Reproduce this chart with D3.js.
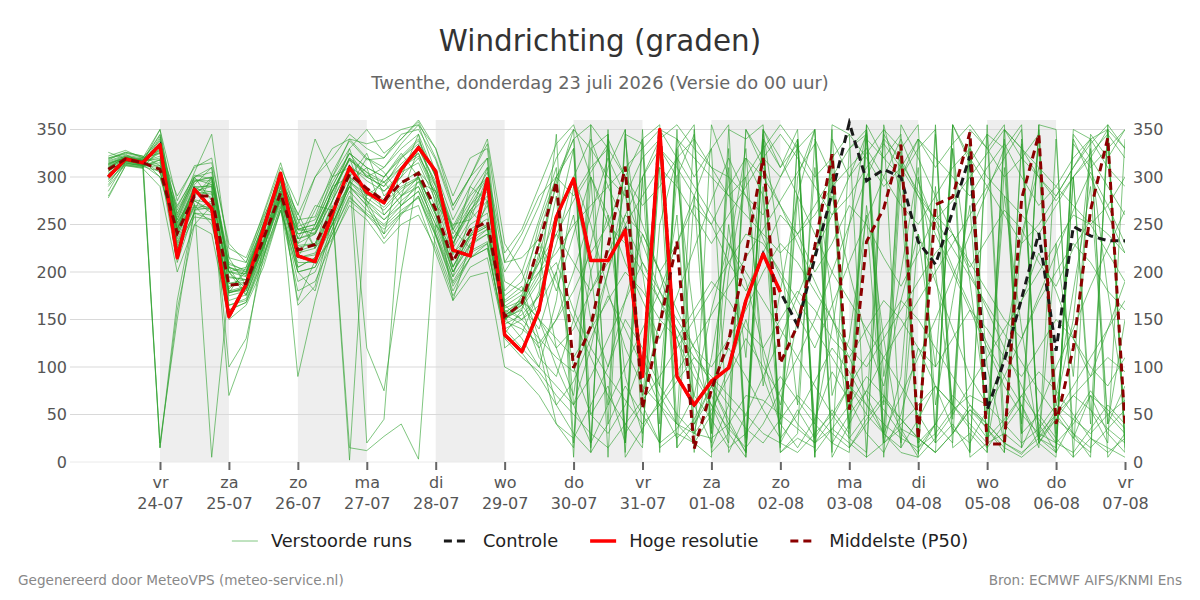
<!doctype html>
<html>
<head>
<meta charset="utf-8">
<script src="https://d3js.org/d3.v7.min.js"></script>
<style>
  body { margin: 0; background: #fff; }
  svg { display: block; font-family: "DejaVu Sans", sans-serif; }
</style>
<title>Windrichting</title>
</head>
<body>
<svg width="1200" height="600"></svg>
<script>
// tijdstappen: elke 6 uur vanaf do 23-07 06 uur
const firstStep = new Date(2026, 6, 23, 6);
const stepHours = 6;

const dayTicks = ["2026-07-24","2026-07-25","2026-07-26","2026-07-27","2026-07-28","2026-07-29","2026-07-30",
  "2026-07-31","2026-08-01","2026-08-02","2026-08-03","2026-08-04","2026-08-05","2026-08-06","2026-08-07"];
const dayNames = ["vr","za","zo","ma","di","wo","do","vr","za","zo","ma","di","wo","do","vr"];
const shadedDays = ["2026-07-24","2026-07-26","2026-07-28","2026-07-30","2026-08-01","2026-08-03","2026-08-05"];
const yTicks = [0, 50, 100, 150, 200, 250, 300, 350];

// hoge resolutie (tot 02-08 00 uur)
const hires = [300,319,315,334,215,287,267,153,187,245,304,217,211,261,310,284,273,308,331,306,
  223,217,298,134,116,160,258,298,212,212,244,90,350,90,60,85,99,170,219,179];

// controle run
const control = [300,319,315,334,215,287,267,153,187,245,304,217,211,261,310,284,273,308,331,306,
  223,217,298,134,116,160,258,298,212,212,244,90,350,90,60,85,99,170,219,179,
  144,215,283,357,296,308,300,232,208,264,322,55,107,172,241,117,248,238,233,233];

// mediaan (P50)
const median = [308,319,315,308,241,280,280,186,188,235,283,223,229,265,303,288,275,294,304,266,
  211,244,253,153,167,230,295,99,143,227,311,56,144,232,14,76,127,219,320,104,
  144,227,324,55,232,267,334,24,271,279,347,19,19,277,345,40,120,265,341,38];

// verstoorde runs
const members = [
  [315,320,316,322,262,296,300,200,195,250,300,245,250,290,325,300,290,320,335,290,230,262,280,150,170,210,260,300,250,180,120,80,60,40,30,25,40,70,65,50,35,20,45,80,60,40,25,15,30,55,70,60,40,20,35,60,45,30,50,65],
  [292,318,312,340,232,270,250,175,180,225,275,205,215,250,290,270,255,275,290,250,200,230,245,160,150,130,110,95,140,200,260,300,330,310,280,250,290,320,300,270,240,260,290,310,330,300,270,250,280,310,330,300,280,260,240,270,300,320,290,260],
  [320,324,314,15,160,250,270,200,182,230,280,230,240,275,310,300,310,330,345,300,240,270,300,175,190,240,300,340,10,350,20,340,355,15,40,70,30,350,320,300,340,10,35,20,5,350,330,355,20,40,10,345,330,355,25,15,350,340,5,30],
  [285,316,320,325,270,300,275,165,170,215,270,190,200,240,280,260,240,262,280,238,185,215,225,140,120,100,80,60,90,130,170,210,180,150,120,100,130,160,200,230,210,180,150,120,100,130,160,190,220,240,210,180,150,130,170,200,230,210,180,160],
  [310,321,318,300,245,282,285,188,192,232,278,228,230,270,15,12,27,40,3,250,220,238,270,200,230,270,320,350,330,300,280,320,340,355,330,310,300,280,260,300,330,350,20,10,340,320,300,330,350,15,30,10,350,320,300,280,310,340,350,330],
  [295,314,312,310,210,265,268,170,176,222,290,200,180,245,296,278,265,285,300,260,205,240,250,155,145,120,150,180,220,250,230,200,170,140,110,90,70,50,30,20,10,30,50,80,110,140,170,150,120,90,60,40,20,10,25,45,70,90,110,95],
  [318,326,322,15,170,265,300,210,200,250,295,240,245,285,320,300,290,310,325,285,235,265,290,190,180,200,220,250,270,290,310,330,350,340,320,300,280,260,240,220,240,270,300,330,350,20,40,60,80,60,40,20,350,330,310,290,270,250,270,300],
  [300,317,313,335,225,262,255,160,168,210,265,210,210,250,290,270,235,260,280,230,180,215,230,130,110,95,70,50,30,15,40,65,90,120,150,180,210,240,230,200,170,140,110,80,50,30,10,5,25,50,80,110,140,170,200,230,260,250,220,190],
  [326,319,317,345,260,305,345,215,210,255,305,260,300,330,340,320,310,335,355,305,255,290,320,120,135,180,345,20,300,40,350,60,310,15,280,30,330,10,290,45,340,20,300,60,355,25,320,8,290,50,345,15,310,40,350,30,300,55,20,340],
  [302,315,311,318,228,268,266,178,184,226,276,170,212,235,270,255,230,250,260,225,175,205,215,135,160,220,120,70,200,260,90,30,250,320,60,20,200,300,110,40,280,350,70,130,260,20,90,300,200,60,330,100,20,240,310,60,150,330,40,80],
  [316,322,319,328,280,310,320,225,215,260,310,270,340,300,330,350,325,340,358,320,270,300,335,210,240,280,300,280,310,330,300,270,290,320,340,310,280,300,330,355,330,300,320,345,320,290,310,340,320,300,280,310,335,300,270,290,320,340,310,290],
  [280,312,309,290,200,250,240,150,165,205,265,180,190,232,275,260,245,262,270,220,170,195,200,100,90,70,40,25,60,100,150,120,80,50,30,55,90,130,100,70,40,20,35,60,90,70,45,25,10,30,55,35,15,5,20,45,30,15,35,55],
  [322,328,320,350,275,312,315,230,210,262,315,255,258,305,338,318,320,345,350,318,265,300,340,230,200,150,100,60,20,340,300,250,200,160,120,80,40,10,350,320,280,240,200,170,140,110,80,50,20,355,320,290,260,230,250,280,310,335,355,20],
  [306,318,315,330,240,285,290,100,130,215,285,165,185,255,310,120,75,200,306,285,230,270,290,148,175,250,300,330,50,80,20,300,340,40,350,15,60,320,280,10,30,340,300,25,50,355,280,20,40,330,10,355,35,60,15,340,25,70,30,10],
  [310,320,316,320,244,290,290,70,120,230,290,240,245,280,320,305,285,300,320,280,225,255,275,155,165,140,200,260,150,100,170,240,200,130,70,160,230,190,120,60,150,220,280,200,130,80,170,240,190,140,90,60,110,170,220,180,130,90,140,190],
  [300,314,313,315,235,272,5,185,188,234,282,222,228,264,303,20,45,280,300,260,200,235,245,152,170,230,290,350,20,60,100,140,180,230,280,330,10,50,90,130,175,220,260,300,345,30,70,110,150,195,240,285,330,15,55,100,140,185,225,265],
  [313,321,317,310,255,300,305,205,196,245,296,235,242,285,318,305,295,310,322,290,235,265,285,165,150,175,230,300,340,290,250,210,170,130,90,60,35,15,40,75,110,150,200,250,300,340,320,280,240,200,160,120,80,50,30,20,40,70,55,35],
  [298,317,313,300,238,275,265,178,182,232,276,215,220,255,295,275,260,280,295,255,200,228,240,152,160,110,90,150,230,310,350,20,330,300,345,10,30,5,340,310,350,25,55,30,355,320,345,15,40,20,350,330,355,30,50,25,5,345,320,350],
  [309,319,316,335,245,288,292,195,192,242,292,235,240,275,312,296,285,305,315,275,218,250,262,158,168,200,240,210,180,220,260,240,200,230,270,250,210,180,220,260,240,200,230,270,250,215,185,220,260,240,205,235,265,245,210,185,225,255,240,220],
  [314,320,318,318,252,295,300,200,198,248,300,248,255,295,325,310,300,322,340,300,245,280,300,170,185,130,60,30,10,40,80,50,20,35,70,45,15,30,60,90,65,40,20,50,75,55,30,10,40,70,50,25,45,70,45,20,10,35,60,40],
  [297,313,310,328,230,270,268,178,184,230,278,90,170,235,295,282,268,288,298,262,205,238,248,145,155,175,250,330,15,345,20,350,40,330,10,355,300,25,345,15,340,5,320,35,350,60,330,20,355,45,320,10,340,30,355,20,300,40,340,10],
  [319,325,321,338,265,298,292,205,198,245,296,262,225,290,300,325,280,300,345,270,250,255,300,210,215,235,190,150,110,70,40,15,350,320,290,260,230,200,170,140,110,80,50,25,10,345,315,285,255,225,195,165,135,105,75,50,25,10,355,330],
  [303,316,314,312,242,275,262,180,180,228,278,215,218,250,290,275,255,270,285,245,195,222,232,150,165,195,280,60,120,200,290,70,150,260,30,110,220,330,80,180,280,40,140,250,350,90,200,310,60,170,270,20,120,230,330,70,180,290,40,150],
  [311,320,317,344,250,288,284,194,192,240,288,230,265,300,340,335,340,350,355,330,280,320,330,162,170,150,130,110,140,170,200,180,150,130,160,190,170,140,120,150,180,160,130,110,140,170,150,120,100,130,160,140,110,90,120,150,130,100,80,110],
  [307,318,315,325,246,284,282,188,189,236,285,226,230,266,2,288,276,294,306,268,212,245,256,154,166,215,295,340,355,5,345,335,15,30,20,5,350,340,355,10,25,15,355,345,5,20,35,25,10,355,5,20,30,15,355,350,5,25,15,5],
  [301,315,312,20,150,265,275,180,185,232,280,220,225,262,300,284,272,290,300,262,206,238,248,148,140,125,150,200,260,320,280,230,180,140,100,60,20,350,310,270,230,190,150,110,70,30,355,320,280,240,200,160,120,80,40,10,340,300,260,220],
  [317,323,320,332,258,300,310,205,200,250,300,245,250,290,325,310,300,320,338,300,248,282,310,180,200,255,310,5,330,345,10,300,20,330,355,35,310,5,340,20,300,350,10,330,345,5,300,340,25,355,315,345,10,335,20,5,345,320,350,15],
  [290,313,311,306,226,262,260,165,172,218,268,200,205,240,278,262,248,265,278,238,188,215,225,140,150,165,200,100,50,30,60,110,70,40,20,50,100,150,90,40,15,45,95,65,30,10,50,120,80,35,20,55,90,60,25,10,45,75,50,30],
  [314,322,318,326,255,296,296,205,176,220,300,235,270,265,290,320,305,280,290,250,225,290,275,168,180,210,240,275,305,335,5,35,65,95,125,155,185,215,245,275,305,335,5,40,75,110,140,170,200,230,260,290,320,350,20,50,80,110,140,170],
  [306,317,314,342,243,276,272,178,205,258,295,205,215,275,330,275,240,310,325,280,170,230,240,152,130,100,170,290,200,60,340,200,80,300,150,30,250,110,350,220,60,310,170,40,270,130,20,240,100,330,190,50,280,140,20,230,90,320,180,60],
  [312,320,316,350,248,292,310,200,205,250,305,250,300,320,345,330,320,340,360,330,270,300,320,156,172,150,120,140,180,210,250,280,310,290,260,230,260,290,320,345,320,290,260,280,310,335,310,280,255,275,300,325,350,330,300,275,300,325,345,320],
  [304,316,312,318,238,280,300,215,186,225,272,245,240,285,320,270,300,325,300,240,195,260,310,150,162,190,210,160,120,90,65,40,60,85,110,85,60,35,20,45,70,50,30,15,40,65,45,25,10,30,55,40,20,8,30,50,70,55,35,20],
  [320,326,322,312,268,302,298,208,202,252,300,244,246,284,318,302,294,314,330,292,244,274,305,220,245,290,335,355,300,250,300,340,10,340,300,330,355,20,350,310,335,5,340,300,325,350,15,340,310,335,355,330,300,320,345,10,335,310,330,350],
  [278,312,310,330,222,258,255,160,168,215,265,200,205,245,285,265,250,270,285,240,190,220,230,135,115,90,60,85,130,175,140,100,60,25,45,80,120,90,55,25,50,85,120,95,60,30,15,45,80,60,35,15,40,70,95,75,50,25,10,25],
  [309,319,316,305,246,290,278,200,175,228,300,255,225,250,295,310,260,280,330,295,245,225,275,154,168,230,180,240,300,260,210,170,130,175,225,275,320,280,235,195,155,120,165,210,255,300,340,295,250,205,165,125,90,130,175,220,265,305,270,230],
  [313,321,317,336,252,282,295,182,200,245,280,215,250,300,310,280,295,270,295,285,230,265,245,164,176,120,40,15,355,330,30,60,20,350,40,80,45,10,340,20,55,25,350,15,45,70,35,5,345,30,60,35,10,340,25,55,30,5,350,25]
];

const legendItems = [
  { name: "Verstoorde runs", color: "#2ca02c", width: 1, dash: null, opacity: 0.6 },
  { name: "Controle", color: "#1a1a1a", width: 3, dash: "8,5", opacity: 1 },
  { name: "Hoge resolutie", color: "#ff0000", width: 3.5, dash: null, opacity: 1 },
  { name: "Middelste (P50)", color: "#8b0000", width: 3, dash: "8,5", opacity: 1 }
];

const svg = d3.select("svg");
const W = 1200;
const plot = { left: 70, right: 1125, top: 120, bottom: 462 };
const parseDay = d3.timeParse("%Y-%m-%d");
const fmtDay = d3.timeFormat("%d-%m");

const x = d3.scaleTime()
  .domain([new Date(2026, 6, 22, 16, 40), new Date(2026, 7, 7)])
  .range([plot.left, plot.right]);
const y = d3.scaleLinear().domain([0, 360]).range([plot.bottom, plot.top]);

const timeAt = i => d3.timeHour.offset(firstStep, i * stepHours);

// titels
svg.append("text").attr("x", W / 2).attr("y", 51).attr("text-anchor", "middle")
  .attr("font-size", 29.4).attr("fill", "#333").text("Windrichting (graden)");
svg.append("text").attr("x", W / 2).attr("y", 89).attr("text-anchor", "middle")
  .attr("font-size", 17.8).attr("fill", "#666").text("Twenthe, donderdag 23 juli 2026 (Versie do 00 uur)");

// grijze dagbanden
svg.append("g").selectAll("rect").data(shadedDays.map(parseDay)).join("rect")
  .attr("x", d => x(d))
  .attr("width", d => x(d3.timeDay.offset(d, 1)) - x(d))
  .attr("y", plot.top).attr("height", plot.bottom - plot.top)
  .attr("fill", "#eeeeee");

// rasterlijnen
svg.append("g").selectAll("line").data(yTicks).join("line")
  .attr("x1", plot.left).attr("x2", plot.right)
  .attr("y1", d => y(d)).attr("y2", d => y(d))
  .attr("stroke", d => d === 0 ? "#eaeaea" : "#d9d9d9").attr("stroke-width", 1);

// assen
const yl = svg.append("g").attr("transform", `translate(${plot.left},0)`)
  .call(d3.axisLeft(y).tickValues(yTicks).tickSize(0).tickPadding(3));
const yr = svg.append("g").attr("transform", `translate(${plot.right},0)`)
  .call(d3.axisRight(y).tickValues(yTicks).tickSize(0).tickPadding(8));
[yl, yr].forEach(g => {
  g.select(".domain").remove();
  g.selectAll("text").attr("font-size", 16).attr("font-family", "DejaVu Sans, sans-serif").attr("fill", "#555");
});

const xa = svg.append("g").attr("transform", `translate(0,${plot.bottom})`)
  .call(d3.axisBottom(x).tickValues(dayTicks.map(parseDay)).tickSize(8).tickFormat(""));
xa.select(".domain").remove();
xa.selectAll(".tick line").attr("stroke", "#666").attr("stroke-width", 2);
xa.selectAll(".tick").each(function (d, i) {
  const t = d3.select(this).append("text").attr("fill", "#555").attr("font-size", 16)
    .attr("font-family", "DejaVu Sans, sans-serif").attr("text-anchor", "middle");
  t.append("tspan").attr("x", 0).attr("y", 26).text(dayNames[i]);
  t.append("tspan").attr("x", 0).attr("y", 47).text(fmtDay(d));
});

// lijnen
svg.append("clipPath").attr("id", "clip").append("rect")
  .attr("x", plot.left).attr("y", plot.top - 2)
  .attr("width", plot.right - plot.left).attr("height", plot.bottom - plot.top + 4);
const line = d3.line().x((d, i) => x(timeAt(i))).y(d => y(d));
const lines = svg.append("g").attr("clip-path", "url(#clip)");

lines.selectAll(".member").data(members).join("path").attr("class", "member")
  .attr("d", line).attr("fill", "none")
  .attr("stroke", "#2ca02c").attr("stroke-opacity", 0.6).attr("stroke-width", 1);

lines.append("path").datum(control).attr("d", line).attr("fill", "none")
  .attr("stroke", "#1a1a1a").attr("stroke-width", 3).attr("stroke-dasharray", "8,5");
lines.append("path").datum(hires).attr("d", line).attr("fill", "none")
  .attr("stroke", "#ff0000").attr("stroke-width", 3.5).attr("stroke-linejoin", "round");
lines.append("path").datum(median).attr("d", line).attr("fill", "none")
  .attr("stroke", "#8b0000").attr("stroke-width", 3).attr("stroke-dasharray", "8,5");

// legenda
const leg = svg.append("g");
let lx = 0;
legendItems.forEach(it => {
  const g = leg.append("g").attr("transform", `translate(${lx},0)`);
  g.append("line").attr("x1", 0).attr("x2", 26).attr("y1", 0).attr("y2", 0)
    .attr("stroke", it.color).attr("stroke-width", it.width)
    .attr("stroke-opacity", it.opacity).attr("stroke-dasharray", it.dash);
  const t = g.append("text").attr("x", 39).attr("y", 6).attr("font-size", 17.8)
    .attr("fill", "#222").text(it.name);
  lx += 39 + t.node().getComputedTextLength() + 32;
});
const totalW = lx - 32;
leg.attr("transform", `translate(${(W - totalW) / 2},541)`);

// voettekst
svg.append("text").attr("x", 18).attr("y", 585).attr("font-size", 13.6).attr("fill", "#888")
  .text("Gegenereerd door MeteoVPS (meteo-service.nl)");
svg.append("text").attr("x", 1182).attr("y", 585).attr("text-anchor", "end").attr("font-size", 13.6)
  .attr("fill", "#888").text("Bron: ECMWF AIFS/KNMI Ens");
</script>
</body>
</html>
